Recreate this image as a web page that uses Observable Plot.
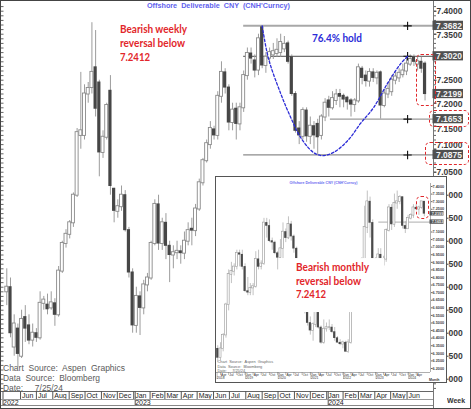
<!DOCTYPE html>
<html>
<head>
<meta charset="utf-8">
<script src="https://cdn.jsdelivr.net/npm/d3@7"></script>
<script src="https://cdn.jsdelivr.net/npm/@observablehq/plot@0.6"></script>
<style>
  html, body { margin: 0; padding: 0; background: #fff; }
  #wrap { position: relative; width: 471px; height: 409px; overflow: hidden; background: #fff; }
  #wrap svg { position: absolute; display: block; }
  .t { position: absolute; white-space: pre; transform-origin: 0 50%; line-height: 1; }
  .ln { position: absolute; }
  .rbox { position: absolute; border: 1.2px dashed #e0282c; border-radius: 5px; box-sizing: border-box; }
</style>
</head>
<body>
<div id="wrap"></div>
<script>
// ---------------- DATA ----------------
const chartTitle = "Offshore  Deliverable  CNY  (CNH'Curncy)";
const insetTitle = "Offshore Deliverable CNY (CNH'Curncy)";
const weeklyNote = ["Bearish weekly", "reversal below", "7.2412"];
const monthlyNote = ["Bearish monthly", "reversal below", "7.2412"];
const holdNote = "76.4% hold";
const sourceNotes = ["Chart  Source:  Aspen  Graphics", "Data  Source:  Bloomberg", "Date:     7/25/24"];
const periodLabel = "Week";
const insetPeriodLabel = "Month";

// weekly candles (first bar week, then one bar per week)
const firstWeek = "2022-05-06";
const weekOpen = [
  6.79, 6.80, 6.67, 6.71, 6.65, 6.735, 6.717, 6.685, 6.70, 6.69,
  6.765, 6.762, 6.755, 6.765, 6.74, 6.835, 6.895, 6.915, 6.94, 7.0,
  7.13, 7.13, 7.22, 7.234, 7.278, 7.245, 7.093, 7.126, 7.227, 7.014,
  6.965, 6.975, 7.0, 6.924, 6.832, 6.717, 6.78, 6.755, 6.805, 6.82,
  6.895, 6.98, 6.895, 6.94, 6.89, 6.87, 6.875, 6.878, 6.874, 6.90,
  6.927, 6.923, 6.97, 7.027, 7.075, 7.11, 7.143, 7.13, 7.215, 7.267,
  7.234, 7.158, 7.188, 7.155, 7.19, 7.26, 7.308, 7.293, 7.272, 7.365,
  7.282, 7.298, 7.305, 7.308, 7.31, 7.318, 7.33, 7.30, 7.22, 7.145,
  7.128, 7.184, 7.128, 7.15, 7.155, 7.13, 7.17, 7.206, 7.19, 7.206,
  7.22, 7.216, 7.212, 7.206, 7.197, 7.205, 7.275, 7.26, 7.248, 7.267,
  7.255, 7.267, 7.195, 7.22, 7.225, 7.25, 7.255, 7.262, 7.27, 7.285,
  7.30, 7.285, 7.29, 7.286
];
const weekHigh = [
  6.84, 6.82, 6.74, 6.72, 6.75, 6.76, 6.74, 6.72, 6.71, 6.79,
  6.78, 6.785, 6.79, 6.775, 6.845, 6.90, 6.925, 6.945, 7.005, 7.145,
  7.267, 7.24, 7.245, 7.375, 7.358, 7.25, 7.14, 7.20, 7.26, 7.015,
  6.99, 7.02, 7.01, 6.93, 6.84, 6.80, 6.79, 6.815, 6.83, 6.90,
  6.99, 7.0, 6.95, 6.96, 6.90, 6.89, 6.90, 6.89, 6.92, 6.94,
  6.95, 6.98, 7.035, 7.08, 7.12, 7.16, 7.15, 7.225, 7.29, 7.275,
  7.24, 7.20, 7.20, 7.20, 7.27, 7.32, 7.32, 7.305, 7.35, 7.3682,
  7.31, 7.32, 7.33, 7.34, 7.35, 7.345, 7.335, 7.305, 7.225, 7.16,
  7.19, 7.19, 7.17, 7.16, 7.165, 7.175, 7.21, 7.215, 7.225, 7.23,
  7.23, 7.22, 7.215, 7.21, 7.21, 7.285, 7.28, 7.27, 7.275, 7.275,
  7.27, 7.27, 7.23, 7.245, 7.26, 7.27, 7.275, 7.285, 7.30, 7.305,
  7.305, 7.30, 7.30, 7.29
];
const weekLow = [
  6.76, 6.69, 6.65, 6.625, 6.645, 6.68, 6.675, 6.67, 6.68, 6.685,
  6.75, 6.74, 6.75, 6.715, 6.735, 6.83, 6.885, 6.905, 6.93, 6.995,
  7.10, 7.12, 7.20, 7.22, 7.17, 7.04, 7.08, 7.12, 7.00, 6.94,
  6.95, 6.965, 6.92, 6.82, 6.70, 6.70, 6.695, 6.74, 6.79, 6.815,
  6.89, 6.88, 6.88, 6.86, 6.81, 6.84, 6.86, 6.85, 6.86, 6.89,
  6.89, 6.91, 6.965, 7.02, 7.07, 7.10, 7.12, 7.12, 7.20, 7.22,
  7.14, 7.14, 7.12, 7.14, 7.18, 7.25, 7.285, 7.255, 7.26, 7.275,
  7.265, 7.285, 7.295, 7.30, 7.30, 7.31, 7.285, 7.215, 7.135, 7.11,
  7.12, 7.115, 7.11, 7.10, 7.0875, 7.12, 7.16, 7.17, 7.185, 7.195,
  7.19, 7.19, 7.185, 7.17, 7.18, 7.20, 7.24, 7.235, 7.235, 7.245,
  7.24, 7.1653, 7.19, 7.21, 7.215, 7.24, 7.245, 7.255, 7.26, 7.28,
  7.28, 7.27, 7.265, 7.205
];
const weekClose = [
  6.80, 6.70, 6.72, 6.655, 6.73, 6.71, 6.684, 6.70, 6.69, 6.765,
  6.772, 6.752, 6.766, 6.74, 6.835, 6.895, 6.915, 6.94, 7.0, 7.136,
  7.14, 7.22, 7.232, 7.267, 7.188, 7.093, 7.126, 7.195, 7.02, 6.966,
  6.975, 7.0, 6.924, 6.832, 6.717, 6.78, 6.755, 6.805, 6.82, 6.895,
  6.98, 6.895, 6.94, 6.89, 6.87, 6.875, 6.878, 6.874, 6.90, 6.923,
  6.923, 6.97, 7.027, 7.075, 7.112, 7.145, 7.13, 7.215, 7.267, 7.234,
  7.158, 7.185, 7.155, 7.19, 7.26, 7.308, 7.297, 7.271, 7.34, 7.282,
  7.30, 7.31, 7.312, 7.315, 7.332, 7.328, 7.29, 7.22, 7.14, 7.13,
  7.184, 7.128, 7.15, 7.13, 7.126, 7.17, 7.20, 7.19, 7.21, 7.218,
  7.214, 7.208, 7.202, 7.197, 7.205, 7.277, 7.255, 7.248, 7.267, 7.255,
  7.265, 7.195, 7.22, 7.23, 7.25, 7.257, 7.265, 7.27, 7.285, 7.295,
  7.29, 7.29, 7.275, 7.2199
];

// monthly candles for the inset (Mar 2018 .. Jul 2024)
const firstMonth = "2018-03-01";
const monthOpen = [
  6.33, 6.27, 6.33, 6.42, 6.62, 6.82, 6.84, 6.87, 6.96, 6.95,
  6.87, 6.71, 6.70, 6.73, 6.74, 6.92, 6.87, 6.89, 7.16, 7.14, 7.04, 7.03,
  6.96, 6.93, 6.99, 7.10, 7.06, 7.15, 7.07, 6.99, 6.85, 6.80, 6.70, 6.58,
  6.50, 6.45, 6.49, 6.57, 6.47, 6.37, 6.46, 6.47, 6.47, 6.44, 6.40, 6.37,
  6.36, 6.37, 6.31, 6.37, 6.62, 6.67, 6.70, 6.76, 6.92, 7.13, 7.30, 7.16,
  6.92, 6.76, 6.95, 6.88, 6.92, 7.11, 7.26, 7.15, 7.29, 7.30, 7.33, 7.14,
  7.12, 7.19, 7.21, 7.26, 7.25, 7.26, 7.30
];
const monthHigh = [
  6.35, 6.37, 6.43, 6.63, 6.85, 6.90, 6.89, 6.98, 6.98, 6.98,
  6.89, 6.80, 6.76, 6.76, 6.97, 6.98, 6.91, 7.19, 7.19, 7.18, 7.06, 7.04,
  6.97, 7.05, 7.16, 7.12, 7.20, 7.17, 7.08, 7.00, 6.87, 6.81, 6.73, 6.61,
  6.54, 6.50, 6.58, 6.57, 6.48, 6.52, 6.50, 6.52, 6.49, 6.47, 6.41, 6.39,
  6.38, 6.38, 6.39, 6.64, 6.82, 6.73, 6.78, 6.93, 7.27, 7.37, 7.33, 7.18,
  6.93, 6.99, 6.99, 6.94, 7.12, 7.28, 7.28, 7.35, 7.37, 7.34, 7.33, 7.17,
  7.21, 7.22, 7.28, 7.28, 7.27, 7.30, 7.30
];
const monthLow = [
  6.24, 6.25, 6.31, 6.40, 6.58, 6.76, 6.81, 6.85, 6.87, 6.85,
  6.70, 6.68, 6.68, 6.68, 6.73, 6.85, 6.85, 6.88, 7.06, 7.03, 6.98, 6.95,
  6.85, 6.92, 6.90, 7.03, 7.05, 7.04, 6.96, 6.84, 6.71, 6.64, 6.56, 6.48,
  6.42, 6.38, 6.47, 6.46, 6.36, 6.36, 6.44, 6.45, 6.43, 6.38, 6.37, 6.35,
  6.33, 6.31, 6.30, 6.36, 6.59, 6.63, 6.68, 6.73, 6.92, 7.09, 7.06, 6.89,
  6.70, 6.73, 6.84, 6.86, 6.90, 7.10, 7.11, 7.13, 7.25, 7.28, 7.12, 7.09,
  7.12, 7.18, 7.19, 7.24, 7.21, 7.25, 7.20
];
const monthClose = [
  6.27, 6.33, 6.42, 6.62, 6.82, 6.84, 6.87, 6.96, 6.95, 6.87,
  6.71, 6.70, 6.73, 6.74, 6.92, 6.87, 6.89, 7.16, 7.14, 7.04, 7.03, 6.96,
  6.93, 6.99, 7.10, 7.06, 7.15, 7.07, 6.99, 6.85, 6.80, 6.70, 6.58, 6.50,
  6.45, 6.49, 6.57, 6.47, 6.37, 6.46, 6.47, 6.47, 6.44, 6.40, 6.37, 6.36,
  6.37, 6.31, 6.37, 6.62, 6.67, 6.70, 6.76, 6.92, 7.13, 7.30, 7.16, 6.92,
  6.76, 6.95, 6.88, 6.92, 7.11, 7.26, 7.15, 7.29, 7.30, 7.33, 7.14, 7.12,
  7.19, 7.21, 7.26, 7.25, 7.26, 7.30, 7.2199
];

// support / resistance levels
const levelValues = [7.3682, 7.3020, 7.1653, 7.0875];
const levelStarts = ["2023-07-28", "2023-07-28", "2024-01-08", "2023-07-28"];
const levelMarkDate = "2024-06-02";
const priceTags = [7.3682, 7.3020, 7.2199, 7.1653, 7.0875];
const insetPriceTags = [7.2199, 7.1653];
const insetLevelValue = 7.1653;
const insetLevelStart = "2023-02-07";

// 76.4% hold arc
const arcDates = ["2023-09-01", "2023-09-13", "2023-10-06", "2023-10-25", "2023-11-13", "2023-12-07", "2023-12-24",
                  "2024-01-14", "2024-02-10", "2024-03-05", "2024-03-30", "2024-04-25", "2024-05-20", "2024-06-02"];
const arcValues = [7.368, 7.297, 7.221, 7.169, 7.125, 7.093, 7.086, 7.093, 7.119, 7.156, 7.191, 7.243, 7.286, 7.302];

// inset annotation mask (area behind the monthly note)
const insetNoteArea = {x1: "2020-01-22", x2: "2023-04-12", y1: 6.569, y2: 6.925};

// ---------------- BUILD ----------------
const weekly = weekOpen.map((o, i) => ({
  date: d3.utcDay.offset(new Date(firstWeek), 7 * i), open: o, high: weekHigh[i], low: weekLow[i], close: weekClose[i]
}));
const monthly = monthOpen.map((o, i) => ({
  date: d3.utcMonth.offset(new Date(firstMonth), i), open: o, high: monthHigh[i], low: monthLow[i], close: monthClose[i]
}));

const mainX = [new Date("2022-04-26"), new Date("2024-07-21")];
const mainY = [6.5733, 7.4211];
const insetX = [new Date("2018-02-15"), new Date("2024-09-08")];
const insetY = [6.1736, 7.4198];
const pxPerUnit = 390 / (mainY[1] - mainY[0]);

const fmt4 = d3.format(".4f");
const monthTicks = d3.utcMonth.range(new Date("2022-06-01"), new Date("2024-06-02"));
const yearTicks = [mainX[0], new Date("2023-01-01"), new Date("2024-01-01")];
const nearTag = (v, tagsArr, tol) => tagsArr.some(t => Math.abs(t - v) < tol);
// upper ticks are fully visible; lower ticks are partly hidden behind the inset, only their tail shows
const yTicksUpper = d3.range(705, 741, 5).map(v => v / 100).filter(v => !nearTag(v, priceTags, 0.008));
const yTicksLower = d3.range(660, 701, 5).map(v => v / 100);
const yMinor = d3.range(658, 742).map(v => v / 100);
// a tick label next to a price tag is nudged just clear of it
const labelGap = 9.8;
const tickShift = v => {
  const t = priceTags.find(t => Math.abs(t - v) < 0.03);
  if (t === undefined) return 0;
  const need = Math.max(0, labelGap - Math.abs(t - v) * pxPerUnit);
  return t > v ? need : -need;
};
const shiftGroups = d3.groups(yTicksUpper, tickShift);

const levelStyle = [
  {stroke: "#a8a8a8", w: 2},
  {stroke: "#4a4a4a", w: 1},
  {stroke: "#9a9a9a", w: 1.2},
  {stroke: "#8c8c8c", w: 1.3}
];
const levels = levelValues.map((v, i) => ({value: v, start: new Date(levelStarts[i]), end: mainX[1], mark: new Date(levelMarkDate)}));
const arc = arcDates.map((d, i) => ({date: new Date(d), value: arcValues[i]}));
const tags = priceTags.map(v => ({v, at: mainX[1]}));

const up = d => d.close >= d.open;
const down = d => d.close < d.open;

const main = Plot.plot({
  width: 471, height: 409,
  marginLeft: 1, marginRight: 38, marginTop: 1, marginBottom: 18,
  x: {type: "utc", domain: mainX},
  y: {domain: mainY},
  style: {fontFamily: "'Liberation Sans', Arial, sans-serif", background: "transparent", overflow: "visible"},
  marks: [
    Plot.axisY(yMinor, {anchor: "left", tickSize: 2.5, dx: 2.5, tickFormat: () => "", stroke: "#666", label: null}),
    Plot.axisY(yMinor, {anchor: "right", tickSize: 2, tickFormat: () => "", stroke: "#666", label: null}),
    Plot.axisY(yTicksUpper, {anchor: "right", tickSize: 2.5, tickFormat: () => "", stroke: "#444", label: null}),
    ...shiftGroups.map(([shift, ticks]) =>
      Plot.axisY(ticks, {anchor: "right", tickSize: 2.5, tickPadding: 0.5, dy: shift, tickFormat: fmt4, fontSize: 8.5, fontWeight: "bold", fill: "#3a3a3a", stroke: "none", label: null})),
    Plot.axisY(yTicksLower, {anchor: "right", tickSize: 2.5, tickPadding: 0.5, dx: 12, tickFormat: d => fmt4(d).slice(3), fontSize: 8.5, fontWeight: "bold", fill: "#3a3a3a", stroke: "#444", label: null}),
    Plot.ruleX([mainX[1]], {stroke: "#777"}),
    Plot.ruleY([mainY[0]], {stroke: "#666"}),
    Plot.axisX(monthTicks, {anchor: "bottom", tickSize: 8, tickFormat: () => "", stroke: "#555", label: null}),
    Plot.axisX(monthTicks, {anchor: "bottom", tickSize: 0, tickPadding: 1.5, tickFormat: d3.utcFormat("%b"), textAnchor: "start", dx: 1.5, fontSize: 7, fill: "#222", label: null}),
    Plot.axisX(yearTicks, {anchor: "bottom", tickSize: 14, tickPadding: -5, tickFormat: d3.utcFormat("%Y"), textAnchor: "start", dx: 1.5, fontSize: 7, fill: "#222", stroke: "#555", label: null}),
    ...levels.map((l, i) => Plot.ruleY([l], {y: "value", x1: "start", x2: "end", stroke: levelStyle[i].stroke, strokeWidth: levelStyle[i].w})),
    Plot.ruleX(weekly, {x: "date", y1: "low", y2: "high", stroke: "#9c9c9c", strokeWidth: 1}),
    Plot.rect(weekly, {filter: up, x1: "date", x2: "date", y1: "open", y2: "close", insetLeft: -1.5, insetRight: -1.5, insetTop: -0.5, insetBottom: -0.5, fill: "#fff", stroke: "#8a8a8a", strokeWidth: 0.9}),
    Plot.rect(weekly, {filter: down, x1: "date", x2: "date", y1: "open", y2: "close", insetLeft: -1.6, insetRight: -1.6, insetTop: -0.5, insetBottom: -0.5, fill: "#464646"}),
    Plot.dot(levels, {x: "mark", y: "value", symbol: "plus", r: 2.8, stroke: "#111", strokeWidth: 1.1}),
    Plot.line(arc, {x: "date", y: "value", curve: "catmull-rom", stroke: "#2b2bd6", strokeWidth: 1.3, strokeDasharray: "2.5,2"}),
    Plot.rect(tags, {x1: "at", x2: "at", y1: "v", y2: "v", insetLeft: -0.5, insetRight: -30, insetTop: -4.6, insetBottom: -4.6, fill: "#505050"}),
    Plot.text(tags, {x: "at", y: "v", text: d => fmt4(d.v), dx: 2.5, textAnchor: "start", fill: "#f2f2f2", fontSize: 8.5, fontWeight: "bold"})
  ]
});

// ---- inset (monthly) ----
const insetYTicks = d3.range(620, 741, 5).map(v => v / 100).filter(v => !nearTag(v, insetPriceTags, 0.021));
const insetQTicks = d3.utcMonth.range(new Date("2018-04-01"), new Date("2024-05-01"), 3);
const insetYearTicks = [insetX[0], ...d3.range(2019, 2025).map(y => new Date(Date.UTC(y, 0, 1)))];
const insetTags = insetPriceTags.map(v => ({v, at: insetX[1]}));
const mask = [{x1: new Date(insetNoteArea.x1), x2: new Date(insetNoteArea.x2), y1: insetNoteArea.y1, y2: insetNoteArea.y2}];

const inset = Plot.plot({
  width: 232, height: 207,
  marginLeft: 1, marginRight: 17, marginTop: 7, marginBottom: 11,
  x: {type: "utc", domain: insetX},
  y: {domain: insetY},
  style: {fontFamily: "'Liberation Sans', Arial, sans-serif", background: "#fff", overflow: "visible"},
  marks: [
    Plot.axisY(insetYTicks, {anchor: "right", tickSize: 1.5, tickPadding: 0.5, tickFormat: fmt4, fontSize: 3.8, fontWeight: "bold", fill: "#444", stroke: "#666", label: null}),
    Plot.ruleX([insetX[1]], {stroke: "#777", strokeWidth: 0.6}),
    Plot.ruleY([insetY[0]], {stroke: "#777", strokeWidth: 0.6}),
    Plot.axisX(insetQTicks, {anchor: "bottom", tickSize: 3, tickFormat: () => "", stroke: "#777", strokeWidth: 0.5, label: null}),
    Plot.axisX(insetQTicks, {anchor: "bottom", tickSize: 0, tickPadding: 0.8, tickFormat: d3.utcFormat("%b"), textAnchor: "start", dx: 0.6, fontSize: 3.4, fill: "#333", label: null}),
    Plot.axisX(insetYearTicks, {anchor: "bottom", tickSize: 7, tickPadding: -2.6, tickFormat: d3.utcFormat("%Y"), textAnchor: "start", dx: 0.6, fontSize: 3.4, fill: "#333", stroke: "#777", strokeWidth: 0.5, label: null}),
    Plot.text([insetTitle], {frameAnchor: "top", dy: -2.5, fontSize: 3.6, fontWeight: "bold", fill: "#6a6af0"}),
    Plot.text([sourceNotes.join("\n")], {frameAnchor: "bottom-left", dx: 1, dy: -0.5, lineAnchor: "bottom", lineHeight: 1.15, fontSize: 3.9, fill: "#666"}),
    Plot.text([insetPeriodLabel], {frameAnchor: "bottom-right", dx: 9, dy: 8, fontSize: 3.5, fontWeight: "bold", fill: "#333"}),
    Plot.ruleY([{v: insetLevelValue, start: new Date(insetLevelStart), end: insetX[1]}], {y: "v", x1: "start", x2: "end", stroke: "#999", strokeWidth: 0.8}),
    Plot.ruleX(monthly, {x: "date", y1: "low", y2: "high", stroke: "#a8a8a8", strokeWidth: 0.7}),
    Plot.rect(monthly, {filter: up, x1: "date", x2: "date", y1: "open", y2: "close", insetLeft: -1, insetRight: -1, insetTop: -0.3, insetBottom: -0.3, fill: "#fff", stroke: "#9a9a9a", strokeWidth: 0.6}),
    Plot.rect(monthly, {filter: down, x1: "date", x2: "date", y1: "open", y2: "close", insetLeft: -1.1, insetRight: -1.1, insetTop: -0.3, insetBottom: -0.3, fill: "#4a4a4a"}),
    Plot.rect(mask, {x1: "x1", x2: "x2", y1: "y1", y2: "y2", fill: "#fff"}),
    Plot.rect(insetTags, {x1: "at", x2: "at", y1: "v", y2: "v", insetLeft: -0.5, insetRight: -13.5, insetTop: -2.2, insetBottom: -2.2, fill: "#555"}),
    Plot.text(insetTags, {x: "at", y: "v", text: d => fmt4(d.v), dx: 1.2, textAnchor: "start", fill: "#eee", fontSize: 3.8, fontWeight: "bold"})
  ]
});

// ---------------- LAYOUT ----------------
const wrap = document.getElementById("wrap");
main.style.left = "0px"; main.style.top = "0px";
wrap.appendChild(main);

// axis-area rules
function line(l, t, w, h, color) {
  const d = document.createElement("div");
  d.className = "ln";
  Object.assign(d.style, {left: l + "px", top: t + "px", width: w + "px", height: h + "px", background: color});
  wrap.appendChild(d);
}
line(0, 399, 433, 1, "#9a9a9a");
line(0, 405, 433, 1, "#888");
line(433, 391, 1, 18, "#777");

function addText(txt, o) {
  const el = document.createElement("div");
  el.className = "t";
  el.textContent = txt;
  Object.assign(el.style, {
    left: o.left + "px", top: (o.cy - o.size / 2) + "px", fontSize: o.size + "px",
    fontFamily: o.font || "'Liberation Sans', Arial, sans-serif", fontWeight: o.weight || "normal", color: o.color
  });
  wrap.appendChild(el);
  if (o.w) {
    const nw = el.getBoundingClientRect().width;
    if (nw > 0) el.style.transform = `scaleX(${o.w / nw})`;
  }
  return el;
}

const red = "#e2262b";
const noteFont = "Lato, 'Open Sans', sans-serif";

addText(chartTitle, {left: 147, cy: 5.5, size: 8, weight: "bold", color: "#6262ee", w: 143});
weeklyNote.forEach((s, i) => addText(s, {left: 120, cy: 29 + 14 * i, size: 11.8, weight: "bold", color: red, font: noteFont, w: [67, 65, 30][i]}));
addText(holdNote, {left: 312, cy: 38, size: 11.8, weight: "bold", color: "#2c2cd8", font: noteFont, w: 50});
sourceNotes.forEach((s, i) => addText(s, {left: 3, cy: 368.6 + 9.8 * i, size: 9.2, color: "#5a5a5a", w: [122, 97, 60][i]}));
addText(periodLabel, {left: 447, cy: 401, size: 7.5, weight: "bold", color: "#333", w: 18});

// red dashed call-out boxes on the main chart (positioned through the plot's scales)
const mx = main.scale("x"), my = main.scale("y");
function rbox(l, t, r, b) {
  const d = document.createElement("div");
  d.className = "rbox";
  Object.assign(d.style, {left: l + "px", top: t + "px", width: (r - l) + "px", height: (b - t) + "px"});
  wrap.appendChild(d);
}
const last3 = weekly.slice(-3);
const frameRight = mx.apply(mainX[1]);
rbox(mx.apply(last3[0].date) - 1.5, my.apply(d3.max(last3, d => d.high)) - 2.5,
     mx.apply(last3[2].date) + 11.5, my.apply(last3[2].low) + 5.7);
rbox(frameRight - 4, my.apply(7.1653) - 8.6, frameRight + 36, my.apply(7.1653) + 8.4);
rbox(frameRight - 8, my.apply(7.0875) - 12, frameRight + 36, my.apply(7.0875) + 10.6);

// inset
const IX = 215, IY = 176;
inset.style.left = IX + "px"; inset.style.top = IY + "px";
wrap.appendChild(inset);
const ib = document.createElement("div");
Object.assign(ib.style, {position: "absolute", left: IX + "px", top: IY + "px", width: "232px", height: "207px", border: "1px solid #555", boxSizing: "border-box"});
wrap.appendChild(ib);

const ix = inset.scale("x"), iy = inset.scale("y");
const lastM = monthly[monthly.length - 1];
rbox(IX + ix.apply(lastM.date) - 7.8, IY + iy.apply(lastM.open) - 5.2, IX + ix.apply(lastM.date) + 5.2, IY + iy.apply(lastM.close) + 5.7);

monthlyNote.forEach((s, i) => addText(s, {left: 296, cy: 267 + 13.5 * i, size: 11.8, weight: "bold", color: red, font: noteFont, w: [73, 65, 30][i]}));

// outer border
const ob = document.createElement("div");
Object.assign(ob.style, {position: "absolute", left: 0, top: 0, width: "471px", height: "409px", border: "1px solid #444", boxSizing: "border-box"});
wrap.appendChild(ob);
</script>
</body>
</html>
